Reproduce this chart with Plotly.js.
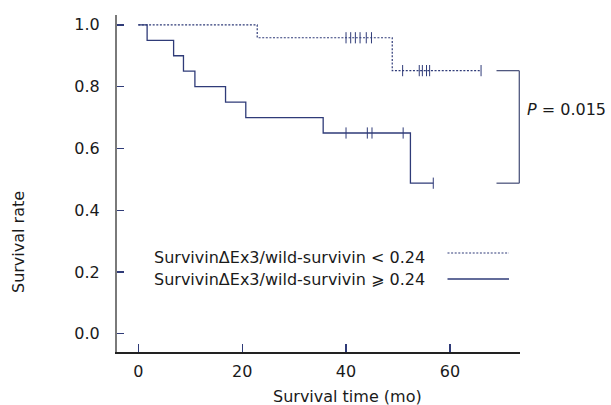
<!DOCTYPE html>
<html>
<head>
<meta charset="utf-8">
<script src="https://cdn.plot.ly/plotly-3.0.1.min.js"></script>
<style>html,body{margin:0;padding:0;background:#fff;}#chart{width:611px;height:405px;}</style>
</head>
<body>
<div id="chart"></div>
<script>
// ---- Data ----
var seriesNames = ["SurvivinΔEx3/wild-survivin < 0.24", "SurvivinΔEx3/wild-survivin ⩾ 0.24"];
// Group with ratio < 0.24 (dotted curve)
var lowTime = [0, 22.9, 48.9, 66.0];
var lowSurv = [1.0, 0.9583, 0.8519, 0.8519];
var lowCensTime = [40.0, 40.9, 41.8, 42.7, 43.9, 44.9, 50.9, 54.1, 54.7, 55.5, 56.1, 66.0];
var lowCensSurv = [0.9583, 0.9583, 0.9583, 0.9583, 0.9583, 0.9583, 0.8519, 0.8519, 0.8519, 0.8519, 0.8519, 0.8519];
// Group with ratio >= 0.24 (solid curve)
var highTime = [0, 1.7, 6.8, 8.7, 10.9, 16.8, 20.7, 35.6, 52.4, 56.8];
var highSurv = [1.0, 0.95, 0.90, 0.85, 0.80, 0.75, 0.70, 0.65, 0.4875, 0.4875];
var highCensTime = [40.0, 44.1, 45.0, 51.0, 56.8];
var highCensSurv = [0.65, 0.65, 0.65, 0.65, 0.4875];
var xTicks = [0, 20, 40, 60];
var yTicks = [0.0, 0.2, 0.4, 0.6, 0.8, 1.0];
var pText = "<i>P</i> = 0.015";
var xTitle = "Survival time (mo)";
var yTitle = "Survival rate";

// ---- Styling ----
var navy = "#2f3b78";
var font = "DejaVu Sans, Verdana, sans-serif";
var txt = "#1a1a1a";

var traces = [
  {x: lowTime, y: lowSurv, mode: "lines", line: {shape: "hv", color: navy, width: 1.2, dash: "2px,1.6px"}, name: seriesNames[0], showlegend: false, hoverinfo: "skip"},
  {x: highTime, y: highSurv, mode: "lines", line: {shape: "hv", color: navy, width: 1.3}, name: seriesNames[1], showlegend: false, hoverinfo: "skip"},
  {x: lowCensTime, y: lowCensSurv, mode: "markers", marker: {symbol: "line-ns", size: 8, line: {color: navy, width: 1}}, showlegend: false, hoverinfo: "skip"},
  {x: highCensTime, y: highCensSurv, mode: "markers", marker: {symbol: "line-ns", size: 8, line: {color: navy, width: 1}}, showlegend: false, hoverinfo: "skip"}
];

var H = 405, mT = 15, mB = 53, mL = 117, mR = 91;
var plotW = 611 - mL - mR, plotH = H - mT - mB;
function px(x) { return (x - mL) / plotW; }
function py(y) { return (H - mB - y) / plotH; }

var layout = {
  width: 611, height: 405,
  margin: {l: mL, r: mR, t: mT, b: mB, pad: 0},
  paper_bgcolor: "#fff", plot_bgcolor: "#fff",
  font: {family: font, size: 16, color: txt},
  showlegend: false,
  xaxis: {
    range: [-4.1, 73.5], tickvals: xTicks, ticktext: xTicks.map(String),
    showgrid: false, zeroline: false, showline: true, linecolor: "#222", linewidth: 1.5,
    ticks: "inside", ticklen: 8, tickcolor: navy, tickwidth: 1.3,
    ticklabelstandoff: 4, tickfont: {size: 16, color: txt}
  },
  yaxis: {
    range: [-0.059, 1.032], tickvals: yTicks, ticktext: yTicks.map(function (v) { return v.toFixed(1); }),
    showgrid: false, zeroline: false, showline: true, linecolor: "#7a7a7a", linewidth: 2,
    ticks: "inside", ticklen: 7, tickcolor: navy, tickwidth: 1.3,
    ticklabelstandoff: 12, tickfont: {size: 16, color: txt}
  },
  shapes: [
    // legend line samples
    {type: "line", xref: "paper", yref: "paper", x0: px(447.5), x1: px(509), y0: py(253), y1: py(253), line: {color: navy, width: 1.2, dash: "2px,1.6px"}},
    {type: "line", xref: "paper", yref: "paper", x0: px(447.5), x1: px(509), y0: py(279), y1: py(279), line: {color: navy, width: 1.3}},
    // P-value bracket
    {type: "line", xref: "paper", yref: "y", x0: px(496.5), x1: px(519.3), y0: lowSurv[2], y1: lowSurv[2], line: {color: "#50587f", width: 1.3}},
    {type: "line", xref: "paper", yref: "y", x0: px(519.3), x1: px(519.3), y0: lowSurv[2], y1: highSurv[8], line: {color: "#50587f", width: 1.3}},
    {type: "line", xref: "paper", yref: "y", x0: px(496.5), x1: px(519.3), y0: highSurv[8], y1: highSurv[8], line: {color: "#50587f", width: 1.3}}
  ],
  annotations: [
    {xref: "paper", yref: "paper", x: px(152), y: py(257.5), xanchor: "left", yanchor: "middle", text: seriesNames[0], showarrow: false, font: {size: 16, color: txt}},
    {xref: "paper", yref: "paper", x: px(152), y: py(279), xanchor: "left", yanchor: "middle", text: seriesNames[1], showarrow: false, font: {size: 16, color: txt}},
    {xref: "paper", yref: "paper", x: px(525), y: py(110), xanchor: "left", yanchor: "middle", text: pText, showarrow: false, font: {size: 16, color: txt}},
    {xref: "paper", yref: "paper", x: px(347), y: py(396), xanchor: "center", yanchor: "middle", text: xTitle, showarrow: false, font: {size: 16, color: txt}},
    {xref: "paper", yref: "paper", x: px(18), y: py(242), xanchor: "center", yanchor: "middle", text: yTitle, textangle: -90, showarrow: false, font: {size: 16, color: txt}}
  ]
};

Plotly.newPlot("chart", traces, layout, {staticPlot: true, displayModeBar: false});
</script>
</body>
</html>
